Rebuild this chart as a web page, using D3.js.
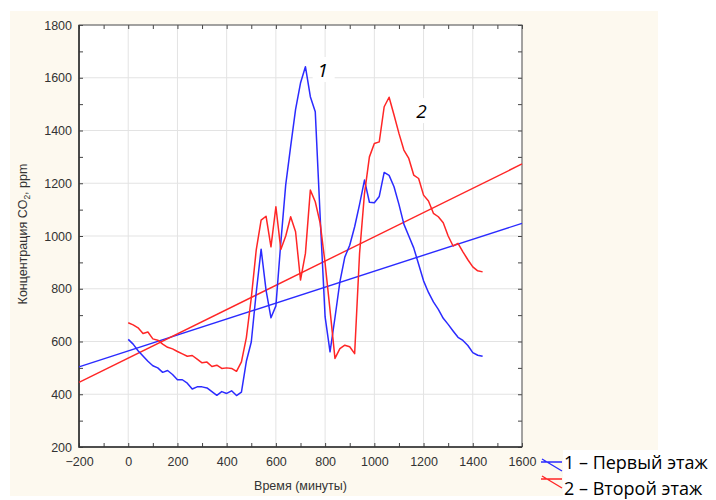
<!DOCTYPE html>
<html>
<head>
<meta charset="utf-8">
<script src="https://cdn.jsdelivr.net/npm/d3@7/dist/d3.min.js"></script>
<style>
    body { margin: 0; background: #fff; }
    svg { display: block; }
    .axis text { font-family: "Liberation Sans", Arial, sans-serif; font-size: 12.5px; fill: #333; }
    .axis path { display: none; }
    .axis line { stroke: #444; }
</style>
</head>
<body>
<svg id="chart" width="716" height="500"></svg>
<script>
// Time of measurement, minutes
const times = [
    0, 20, 40, 60, 80, 100, 120, 140, 160, 180, 200, 220, 240, 260, 280, 300, 320, 340, 360, 380,
    400, 420, 440, 460, 480, 500, 520, 540, 560, 580, 600, 620, 640, 660, 680, 700, 720, 740, 760, 780,
    800, 820, 840, 860, 880, 900, 920, 940, 960, 980, 1000, 1020, 1040, 1060, 1080, 1100, 1120, 1140, 1160, 1180,
    1200, 1220, 1240, 1260, 1280, 1300, 1320, 1340, 1360, 1380, 1400, 1420, 1440
];

// CO2, ppm - first floor
const floor1 = [
    608, 590, 565, 545, 525, 508, 500, 483, 490, 475, 455, 455, 442, 420, 428, 428, 424, 410, 396, 410,
    403, 413, 395, 408, 525, 598, 785, 950, 795, 690, 735, 975, 1195, 1340, 1480, 1580, 1642, 1528, 1471, 1070,
    693, 561, 690, 826, 920, 965, 1035, 1120, 1212, 1128, 1126, 1150, 1241, 1230, 1187, 1120, 1045, 1000, 955, 893,
    830, 786, 750, 722, 688, 665, 640, 616, 604, 585, 558, 548, 544
];

// CO2, ppm - second floor
const floor2 = [
    671, 663, 652, 630, 636, 610, 605, 590, 578, 572, 562, 553, 544, 547, 533, 519, 522, 505, 510, 498,
    500, 498, 487, 523, 615, 765, 946, 1060, 1075, 959, 1111, 949, 1000, 1073, 1016, 833, 934, 1174, 1130, 1048,
    896, 719, 536, 573, 586, 580, 554, 934, 1161, 1300, 1351, 1357, 1490, 1526, 1459, 1389, 1326, 1294, 1231, 1218,
    1155, 1133, 1086, 1073, 1050, 1000, 962, 972, 940, 910, 883, 868, 864
];

// Linear trends (ends of the fitted lines)
const trendX = [-200, 1600];
const trend1 = [504, 1048];
const trend2 = [445, 1273];

// Axis ticks
const xTicks = [-200, 0, 200, 400, 600, 800, 1000, 1200, 1400, 1600];
const xMinor = [-100, 100, 300, 500, 700, 900, 1100, 1300, 1500];
const yTicks = [200, 400, 600, 800, 1000, 1200, 1400, 1600, 1800];
const yMinor = [300, 500, 700, 900, 1100, 1300, 1500, 1700];

const seriesNames = ["1 – Первый этаж", "2 – Второй этаж"];
const seriesColors = ["#2b2bff", "#ff2626"];


/**
 * CO2 concentration chart
 *
 * @param element svg element
 * @constructor
 */
function Co2Chart(element) {
    this.svg = d3.select(element);

    // Plot area, px
    this.margin = { top: 25, right: 194, bottom: 53, left: 79 };
    this.width = 716 - this.margin.left - this.margin.right;
    this.height = 500 - this.margin.top - this.margin.bottom;

    this.x = d3.scaleLinear().domain([-200, 1600]).range([0, this.width]);
    this.y = d3.scaleLinear().domain([200, 1800]).range([this.height, 0]);

    /**
     * Background panel and plot frame with grid
     */
    this.setup = function () {
        let me = this;
        let fmt = d3.format("d");

        // Cream panel behind the chart
        me.svg.append("rect")
            .attr("x", 10).attr("y", 11)
            .attr("width", 648).attr("height", 485)
            .attr("fill", "#fdf9ef");

        me.g = me.svg.append("g")
            .attr("transform", "translate(" + me.margin.left + "," + me.margin.top + ")");

        me.g.append("rect")
            .attr("width", me.width).attr("height", me.height)
            .attr("fill", "#fff");

        // Grid
        me.g.append("g").selectAll("line").data(xTicks).join("line")
            .attr("x1", d => me.x(d)).attr("x2", d => me.x(d))
            .attr("y1", 0).attr("y2", me.height)
            .attr("stroke", "#e3e3e3");
        me.g.append("g").selectAll("line").data(yTicks).join("line")
            .attr("y1", d => me.y(d)).attr("y2", d => me.y(d))
            .attr("x1", 0).attr("x2", me.width)
            .attr("stroke", "#e3e3e3");

        // Axes with inward ticks
        me.g.append("g").attr("class", "axis")
            .attr("transform", "translate(0," + me.height + ")")
            .call(d3.axisBottom(me.x).tickValues(xTicks).tickFormat(fmt).tickSize(-4).tickPadding(10));
        me.g.append("g").attr("class", "axis")
            .attr("transform", "translate(0," + me.height + ")")
            .call(d3.axisBottom(me.x).tickValues(xMinor).tickSize(-4).tickFormat(""));
        me.g.append("g").attr("class", "axis")
            .call(d3.axisLeft(me.y).tickValues(yTicks).tickFormat(fmt).tickSize(-4).tickPadding(7));
        me.g.append("g").attr("class", "axis")
            .call(d3.axisLeft(me.y).tickValues(yMinor).tickSize(-4).tickFormat(""));
        me.g.append("g").attr("class", "axis")
            .call(d3.axisTop(me.x).tickValues(xTicks.concat(xMinor)).tickSize(-4).tickFormat(""));
        me.g.append("g").attr("class", "axis")
            .attr("transform", "translate(" + me.width + ",0)")
            .call(d3.axisRight(me.y).tickValues(yTicks.concat(yMinor)).tickSize(-4).tickFormat(""));

        // Frame
        me.g.append("rect")
            .attr("width", me.width).attr("height", me.height)
            .attr("fill", "none").attr("stroke", "#555").attr("stroke-width", 1);
        me.g.append("path")
            .attr("d", "M0,0V" + me.height + "H" + me.width)
            .attr("fill", "none").attr("stroke", "#333").attr("stroke-width", 1.6);

        // Axis titles
        me.g.append("text")
            .attr("x", me.width / 2).attr("y", me.height + 43)
            .attr("text-anchor", "middle")
            .attr("font-family", "'Liberation Sans', Arial, sans-serif")
            .attr("font-size", 12.5).attr("fill", "#333")
            .text("Время (минуты)");

        let yt = me.g.append("text")
            .attr("transform", "translate(" + (-52) + "," + (me.height / 2 - 2) + ") rotate(-90)")
            .attr("text-anchor", "middle")
            .attr("font-family", "'Liberation Sans', Arial, sans-serif")
            .attr("font-size", 12.5).attr("fill", "#333");
        yt.append("tspan").text("Концентрация CO");
        yt.append("tspan").attr("font-size", 8.5).attr("dy", 3).text("2");
        yt.append("tspan").attr("dy", -3).text(", ppm");
    };

    /**
     * Measured series and their linear trends
     */
    this.drawLines = function () {
        let me = this;

        let line = d3.line()
            .x(d => me.x(d[0]))
            .y(d => me.y(d[1]));

        [trend1, trend2].forEach(function (trend, i) {
            me.g.append("path")
                .datum(d3.zip(trendX, trend))
                .attr("d", line)
                .attr("fill", "none")
                .attr("stroke", seriesColors[i])
                .attr("stroke-width", 1.4);
        });

        [floor1, floor2].forEach(function (values, i) {
            me.g.append("path")
                .datum(d3.zip(times, values))
                .attr("d", line)
                .attr("fill", "none")
                .attr("stroke", seriesColors[i])
                .attr("stroke-width", 1.5)
                .attr("stroke-linejoin", "round");
        });

        // Peak labels with white boxes
        [["1", 790, 1603], ["2", 1192, 1447]].forEach(function (p) {
            let px = me.x(p[1]), py = me.y(p[2]);
            me.g.append("rect")
                .attr("x", px - 10).attr("y", py - 20)
                .attr("width", 22).attr("height", 25)
                .attr("fill", "#fff");
            me.g.append("text")
                .attr("x", px).attr("y", py)
                .attr("text-anchor", "middle")
                .attr("font-family", "'Open Sans', sans-serif")
                .attr("font-style", "italic")
                .attr("font-size", 19)
                .attr("fill", "#000")
                .text(p[0]);
        });
    };

    /**
     * Legend in the bottom right corner
     */
    this.drawLegend = function () {
        let me = this;

        me.svg.append("rect")
            .attr("x", 563).attr("y", 450)
            .attr("width", 153).attr("height", 50)
            .attr("fill", "#fff");

        let item = me.svg.append("g").selectAll("g")
            .data(seriesNames)
            .join("g")
            .attr("transform", (d, i) => "translate(541," + (461 + i * 17) + ")");

        item.append("path")
            .attr("d", "M0,1H21M1,-2L21,10")
            .attr("fill", "none")
            .attr("stroke", (d, i) => seriesColors[i])
            .attr("stroke-width", 1.4);

        item.append("text")
            .attr("x", 23).attr("y", (d, i) => 8 + i * 9)
            .attr("font-family", "'Open Sans', sans-serif")
            .attr("font-size", 18)
            .attr("fill", "#000")
            .text(d => d);
    };

    this.setup();
    this.drawLines();
    this.drawLegend();
}

new Co2Chart(document.getElementById("chart"));
</script>
</body>
</html>
